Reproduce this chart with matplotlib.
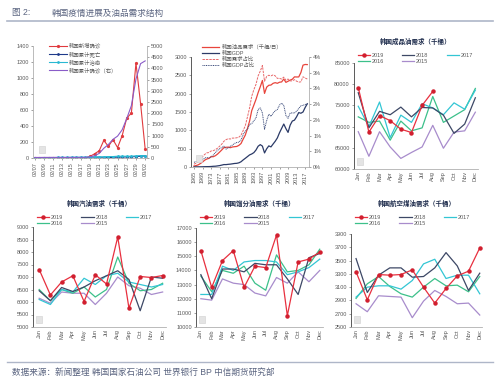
import numpy as np
import matplotlib
matplotlib.use("Agg")
import matplotlib.pyplot as plt
from matplotlib.lines import Line2D
from matplotlib.patches import Rectangle

plt.rcParams['font.family'] = ['Liberation Sans', 'Noto Sans CJK SC', 'DejaVu Sans']

# ---- panel 1: covid ----
dates = ['02/07', '02/08', '02/09', '02/10', '02/11', '02/12', '02/13', '02/14', '02/15',
         '02/16', '02/17', '02/18', '02/19', '02/20', '02/21', '02/22', '02/23', '02/24',
         '02/25', '02/26', '02/27', '02/28', '02/29', '03/01', '03/02']
new_cases = [0, 1, 3, 0, 1, 0, 0, 0, 0, 1, 1, 1, 20, 53, 90, 220, 145, 230, 130, 280, 500, 560, 1185, 680, 115]
deaths = [0, 0, 0, 0, 0, 0, 0, 0, 0, 0, 0, 0, 0, 1, 2, 2, 6, 8, 11, 12, 13, 16, 17, 21, 26]
recovered = [1, 1, 3, 3, 4, 7, 7, 7, 9, 9, 10, 10, 12, 16, 16, 16, 18, 18, 22, 22, 22, 22, 27, 30, 30]
total_cases = [24, 24, 27, 27, 28, 28, 28, 28, 28, 29, 30, 31, 51, 104, 204, 433, 602, 833, 977,
               1261, 1766, 2337, 3526, 4212, 4335]

# ---- panel 2: oil demand vs GDP ----
years = list(range(1965, 2019))
oil_demand = [27, 39, 60, 95, 135, 186, 218, 235, 282, 280, 308, 352, 408, 466, 529, 538, 540, 527,
              546, 554, 560, 590, 640, 760, 870, 1048, 1251, 1535, 1688, 1844, 2028, 2188, 2360, 2007,
              2178, 2229, 2235, 2282, 2300, 2283, 2312, 2320, 2399, 2308, 2339, 2370, 2394, 2458,
              2455, 2456, 2575, 2778, 2796, 2793]
gdp = [3, 3.7, 4.3, 5.2, 6.6, 8.9, 9.9, 10.8, 13.8, 19.2, 21.7, 29.8, 38.4, 51.7, 66.4, 65.4, 72.9,
       78.3, 87, 96.6, 100.3, 114, 143, 193, 237, 283, 330, 355, 392, 463, 566, 610, 570, 384, 497,
       576, 548, 627, 702, 793, 934, 1053, 1172, 1047, 944, 1144, 1253, 1278, 1370, 1484, 1466, 1500,
       1623, 1725]
oil_share = [0.09, 0.12, 0.17, 0.25, 0.33, 0.40, 0.45, 0.46, 0.51, 0.52, 0.55, 0.60, 0.66, 0.73,
             0.82, 0.87, 0.90, 0.89, 0.92, 0.92, 0.93, 0.95, 1.01, 1.16, 1.31, 1.59, 1.88, 2.25,
             2.46, 2.63, 2.90, 3.05, 3.23, 2.73, 2.88, 2.92, 2.90, 2.93, 2.90, 2.82, 2.82, 2.80,
             2.86, 2.76, 2.80, 2.74, 2.74, 2.78, 2.73, 2.70, 2.71, 2.87, 2.83, 2.80]
gdp_share = [0.15, 0.17, 0.18, 0.20, 0.23, 0.29, 0.30, 0.29, 0.32, 0.38, 0.46, 0.53, 0.58, 0.62,
             0.66, 0.57, 0.61, 0.66, 0.70, 0.75, 0.78, 0.79, 0.86, 1.03, 1.14, 1.20, 1.35, 1.38,
             1.47, 1.56, 1.83, 1.88, 1.72, 1.20, 1.48, 1.68, 1.61, 1.71, 1.79, 1.83, 1.97, 2.03,
             1.96, 1.64, 1.55, 1.72, 1.72, 1.72, 1.78, 1.86, 1.95, 1.96, 1.99, 2.00]
year_ticks = [1965, 1969, 1973, 1977, 1981, 1985, 1989, 1993, 1997, 2001, 2005, 2009, 2013, 2017]
pct_ticks = [0, 0.5, 1, 1.5, 2, 2.5, 3, 3.5]
pct_labels = ['0%', '1%', '1%', '2%', '2%', '3%', '3%', '4%']

# ---- monthly panels ----
months = ['Jan', 'Feb', 'Mar', 'Apr', 'May', 'Jun', 'Jul', 'Aug', 'Sep', 'Oct', 'Nov', 'Dec']
series_years = ['2019', '2018', '2017', '2016', '2015']

products_2019 = [79200, 68700, 72600, 71400, 69400, 68600, 75000, 78300]
products_2018 = [78000, 69700, 73600, 72800, 74600, 72300, 74500, 74400, 72700, 68400, 70600, 76800]
products_2017 = [74800, 70000, 75800, 67400, 72700, 71000, 75400, 74400, 72800, 75600, 74100, 78600]
products_2016 = [72300, 71000, 71300, 66800, 71300, 69000, 69700, 77100, 71000, 72500, 74000, 79000]
products_2015 = [68800, 63000, 68800, 65200, 62500, 63900, 65200, 70300, 64900, 68700, 69000, 73400]

gasoline_2019 = [7300, 6280, 6800, 7050, 6020, 7090, 6720, 8600, 5750, 7020, 6980, 7060]
gasoline_2018 = [6450, 6050, 6580, 6420, 6600, 6850, 7050, 7250, 6900, 5650, 7000, 6950]
gasoline_2017 = [6100, 5900, 6500, 6400, 6950, 6700, 7050, 7150, 6800, 6700, 6600, 6700]
gasoline_2016 = [6500, 6050, 6500, 6350, 6600, 6200, 6500, 7800, 6750, 6450, 6500, 6750]
gasoline_2015 = [6150, 5950, 6400, 6350, 6350, 5900, 6350, 7000, 6650, 6550, 6300, 6400]

distillate_2019 = [15400, 12800, 14700, 15400, 12800, 14300, 14200, 16500, 10800, 14600, 14800, 15300]
distillate_2018 = [13700, 12000, 14100, 14100, 13900, 14500, 14400, 14400, 13400, 12300, 14900, 15200]
distillate_2017 = [12300, 12300, 14300, 14000, 14600, 14700, 14700, 14600, 13700, 13900, 14200, 14800]
distillate_2016 = [13600, 12500, 14000, 13800, 14300, 13100, 12600, 15100, 13900, 14000, 14400, 15500]
distillate_2015 = [12000, 11900, 13400, 13100, 13000, 12400, 12200, 13500, 13100, 13900, 13200, 14000]

jet_2019 = [3330, 2910, 3290, 3280, 3290, 3360, 3100, 2860, 3080, 3270, 3340, 3690]
jet_2018 = [3530, 3020, 3280, 3390, 3390, 3250, 3260, 3390, 3620, 3420, 3050, 3310]
jet_2017 = [2950, 3100, 3120, 3120, 3070, 3200, 3450, 3520, 3230, 3280, 3280, 3000]
jet_2016 = [2930, 3150, 3260, 3110, 3000, 2950, 3100, 3230, 3120, 3130, 3030, 3260]
jet_2015 = [2850, 2730, 2970, 2960, 2950, 2640, 2890, 3050, 2960, 2850, 2860, 2680]

W, H = 500, 387
fig = plt.figure(figsize=(W / 100, H / 100), dpi=100)
fig.patch.set_facecolor('white')

TXT = '#595959'
NAVY_T = '#1f2d4d'
year_colors = ['#e8303f', '#3d4866', '#33c6d4', '#3cc08a', '#a88ccc']


def px_axes(l, t, r, b):
    return fig.add_axes([l / W, 1 - b / H, (r - l) / W, (b - t) / H])


def style(ax, left_dark=False):
    for s in ['top', 'right']:
        ax.spines[s].set_visible(False)
    ax.spines['bottom'].set_color('#b0b0b0')
    ax.spines['left'].set_color('#404040' if left_dark else '#b0b0b0')
    ax.spines['bottom'].set_linewidth(0.6)
    ax.spines['left'].set_linewidth(0.6)
    ax.tick_params(axis='both', labelsize=4, colors=TXT, length=1.5, width=0.4, pad=1.5)
    ax.set_facecolor('none')


def stamp(xp, yp):
    # small grey logo square in the lower left of each chart
    fig.add_artist(Rectangle((xp / W, 1 - (yp + 7) / H), 6 / W, 7 / H, facecolor='#e4e4e4',
                             edgecolor='#cfcfcf', lw=0.4))


# header / footer
fig.text(12 / W, 1 - 13 / H, '图 2:', fontsize=6.2, color='#5a6480', va='center')
fig.text(52 / W, 1 - 13 / H, '韩国疫情进展及油品需求结构', fontsize=6.2, color='#5a6480', va='center')
fig.add_artist(Line2D([7 / W, 493 / W], [1 - 20.5 / H] * 2, color='#aeb6c8', lw=1.2))
fig.add_artist(Line2D([7 / W, 493 / W], [1 - 362 / H] * 2, color='#aeb6c8', lw=1.0))
fig.text(12 / W, 1 - 372 / H, '数据来源：新闻整理 韩国国家石油公司 世界银行 BP 中信期货研究部',
         fontsize=6.2, color='#5a6480', va='center')

# ---- panel 1 ----
ax1 = px_axes(33, 46, 147, 158)
style(ax1)
x = np.arange(len(dates))
ax1.plot(x, new_cases, color='#e03a3e', lw=0.8, marker='o', ms=1.3, label='韩国新增确诊')
ax1.plot(x, deaths, color='#1f3a8a', lw=0.8, marker='o', ms=1.0, label='韩国累计死亡')
ax1.plot(x, recovered, color='#2ab8d2', lw=0.8, marker='o', ms=1.0, label='韩国累计治愈')
ax1.set_ylim(0, 1400)
ax1.set_yticks(range(0, 1401, 200))
ax1.set_xlim(-0.4, 24.4)
ax1.set_xticks(x[::2])
ax1.set_xticklabels(dates[::2], rotation=90)
ax1r = ax1.twinx()
ax1r.set_facecolor('none')
ax1r.plot(x, total_cases, color='#8a5cc8', lw=0.8, label='韩国累计确诊（右）')
ax1r.set_ylim(0, 5000)
ax1r.set_yticks(range(0, 5001, 500))
for s in ['top', 'left', 'bottom']:
    ax1r.spines[s].set_visible(False)
ax1r.spines['right'].set_color('#b0b0b0')
ax1r.spines['right'].set_linewidth(0.6)
ax1r.tick_params(axis='y', labelsize=4, colors=TXT, length=1.5, width=0.4, pad=1.5)
h1, l1 = ax1.get_legend_handles_labels()
h2, l2 = ax1r.get_legend_handles_labels()
ax1.legend(h1 + h2, l1 + l2, loc='upper left', bbox_to_anchor=(0.1, 1.07), fontsize=3.9,
           frameon=False, handlelength=3.2, labelspacing=0.45, handletextpad=0.4, labelcolor=TXT)
stamp(39, 146)

# ---- panel 2 ----
ax2 = px_axes(191, 57, 309, 167)
style(ax2, left_dark=True)
ax2.plot(years, oil_demand, color='#e8453c', lw=0.9, label='韩国油品需求（千桶/日）')
ax2.plot(years, gdp, color='#2b3a67', lw=0.9, label='韩国GDP')
ax2.set_ylim(0, 3000)
ax2.set_yticks(range(0, 3001, 500))
ax2.set_xlim(1963.6, 2018.8)
ax2.set_xticks(year_ticks)
ax2.set_xticklabels([str(y) for y in year_ticks], rotation=90)
ax2r = ax2.twinx()
ax2r.set_facecolor('none')
ax2r.plot(years, oil_share, color='#e8686a', lw=0.7, ls=(0, (2.5, 1)), label='韩国需求占比')
ax2r.plot(years, gdp_share, color='#3a4a7a', lw=0.7, ls=(0, (1, 0.8)), label='韩国GDP占比')
ax2r.set_ylim(0, 3.5)
ax2r.set_yticks(pct_ticks)
ax2r.set_yticklabels(pct_labels)
for s in ['top', 'left', 'bottom']:
    ax2r.spines[s].set_visible(False)
ax2r.spines['right'].set_color('#b0b0b0')
ax2r.spines['right'].set_linewidth(0.6)
ax2r.tick_params(axis='y', labelsize=4, colors=TXT, length=1.5, width=0.4, pad=1.5)
h1, l1 = ax2.get_legend_handles_labels()
h2, l2 = ax2r.get_legend_handles_labels()
ax2.legend(h1 + h2, l1 + l2, loc='upper left', bbox_to_anchor=(0.05, 1.16), fontsize=3.9,
           frameon=False, handlelength=3.2, labelspacing=0.2, handletextpad=0.4, labelcolor=TXT)
stamp(196, 155)


# ---- monthly panels ----
def monthly(box, title, title_y, data, ylim, step, xlim, leg_top):
    ax = px_axes(*box)
    style(ax, left_dark=True)
    handles = []
    for i, (yr, vals) in enumerate(zip(series_years, data)):
        kw = dict(marker='o', ms=2.2, mfc='#d11f2f', mec='#d11f2f') if i == 0 else {}
        h, = ax.plot(range(len(vals)), vals, color=year_colors[i], lw=0.9, label=yr, zorder=5 - i, **kw)
        handles.append(h)
    ax.set_ylim(*ylim)
    ax.set_yticks(np.arange(ylim[0], ylim[1] + 1, step))
    ax.set_xlim(*xlim)
    ax.set_xticks(range(12))
    ax.set_xticklabels(months, rotation=90)
    ax.tick_params(axis='x', length=0)
    cx = (box[0] + box[2]) / 2
    fig.text(cx / W, 1 - title_y / H, title, fontsize=4.7, fontweight='bold', color=NAVY_T,
             ha='center', va='center')
    order = [handles[0], handles[3], handles[1], handles[4], handles[2]]
    anchor_y = 1 + (box[1] - leg_top) / (box[3] - box[1])
    ax.legend(order, [h.get_label() for h in order], ncol=3, loc='upper left',
              bbox_to_anchor=(0.03, anchor_y), fontsize=4, frameon=False, handlelength=2.2,
              columnspacing=3.3, labelspacing=0.2, handletextpad=0.3, labelcolor=TXT,
              borderaxespad=0, borderpad=0)
    stamp(box[0] + 3, box[3] - 11)
    return ax


monthly((354, 63, 478, 169), '韩国成品油需求（千桶）', 42,
        [products_2019, products_2018, products_2017, products_2016, products_2015],
        (60000, 85000), 5000, (-0.4, 11.25), 53)
monthly((33, 227, 166, 327), '韩国汽油需求（千桶）', 204,
        [gasoline_2019, gasoline_2018, gasoline_2017, gasoline_2016, gasoline_2015],
        (5000, 9000), 500, (-0.55, 11.3), 215)
monthly((196, 228, 323, 327), '韩国馏分油需求（千桶）', 204,
        [distillate_2019, distillate_2018, distillate_2017, distillate_2016, distillate_2015],
        (10000, 17000), 1000, (-0.45, 11.3), 215)
monthly((351, 234, 482, 327), '韩国航空煤油需求（千桶）', 204,
        [jet_2019, jet_2018, jet_2017, jet_2016, jet_2015],
        (2500, 3900), 200, (-0.45, 11.2), 215)

fig.savefig('out.png', dpi=100, facecolor='white')
